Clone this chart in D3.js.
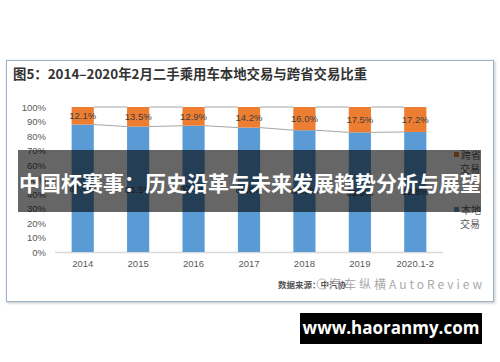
<!DOCTYPE html>
<html>
<head>
<meta charset="utf-8">
<script src="https://cdn.jsdelivr.net/npm/d3@7"></script>
<style>
  body { margin: 0; background: #fff; }
  svg { display: block; font-family: "Liberation Sans", Arial, "Noto Sans CJK SC", sans-serif; }
</style>
</head>
<body>
<svg id="chart" width="500" height="362"></svg>
<script>
// 数据
const years = ['2014', '2015', '2016', '2017', '2018', '2019', '2020.1-2'];
const local = [87.9, 86.5, 87.1, 85.8, 84.0, 82.5, 82.8];   // 本地交易
const cross = [12.1, 13.5, 12.9, 14.2, 16.0, 17.5, 17.2];   // 跨省交易
const yTicks = [0, 10, 20, 30, 40, 50, 60, 70, 80, 90, 100];
const legendItems = [
  { name: ['跨省', '交易'], color: '#ED7D31' },
  { name: ['本地', '交易'], color: '#5B9BD5' }
];

const svg = d3.select('#chart');
const cjk = '"Noto Sans CJK SC", sans-serif';

// 外框 + 阴影
const defs = svg.append('defs');
const f = defs.append('filter').attr('id', 'shadow').attr('x', -0.05).attr('y', -0.05).attr('width', 1.1).attr('height', 1.1);
f.append('feDropShadow').attr('dx', 1).attr('dy', 1).attr('stdDeviation', 1.5).attr('flood-color', '#000').attr('flood-opacity', 0.25);
svg.append('rect')
  .attr('x', 6.5).attr('y', 60.5).attr('width', 487).attr('height', 241)
  .attr('fill', '#fff').attr('stroke', '#9db3c9').attr('stroke-width', 1)
  .attr('filter', 'url(#shadow)');

// 标题
svg.append('text')
  .attr('x', 13).attr('y', 79)
  .style('font-family', cjk).style('font-size', '13.4px').style('font-weight', 'bold')
  .attr('fill', '#333')
  .text('图5：2014–2020年2月二手乘用车本地交易与跨省交易比重');

// 比例尺
const x = d3.scaleBand().domain(years).range([55, 443]).paddingInner(0.6).paddingOuter(0.3);
const y = d3.scaleLinear().domain([0, 100]).range([252, 107]);

// y轴
const yAxis = svg.append('g').attr('transform', 'translate(50,0)')
  .call(d3.axisLeft(y).tickValues(yTicks).tickFormat(d => d + '%').tickSize(0));
yAxis.select('.domain').remove();
yAxis.selectAll('text').attr('fill', '#595959').style('font-size', '9.5px').attr('x', -4);

// x轴
svg.append('line').attr('x1', 55).attr('x2', 443).attr('y1', y(0) + 0.5).attr('y2', y(0) + 0.5)
  .attr('stroke', '#d9d9d9').attr('stroke-width', 1.5);
const xAxis = svg.append('g').attr('transform', `translate(0,${y(0)})`)
  .call(d3.axisBottom(x).tickSize(0));
xAxis.select('.domain').remove();
xAxis.selectAll('text').attr('fill', '#595959').style('font-size', '9.5px').attr('dy', '1.25em');

// 系列线
const bw = x.bandwidth();
const seriesLine = svg.append('g').attr('stroke', '#a6a6a6').attr('stroke-width', 1);
years.forEach((yr, i) => {
  if (i === years.length - 1) return;
  const x1 = x(yr) + bw, x2 = x(years[i + 1]);
  seriesLine.append('line').attr('x1', x1).attr('x2', x2).attr('y1', y(local[i])).attr('y2', y(local[i + 1]));
  seriesLine.append('line').attr('x1', x1).attr('x2', x2).attr('y1', y(100)).attr('y2', y(100));
});

// 柱子
const bars = svg.append('g');
years.forEach((yr, i) => {
  bars.append('rect')
    .attr('x', x(yr)).attr('width', bw)
    .attr('y', y(local[i])).attr('height', y(0) - y(local[i]))
    .attr('fill', '#5B9BD5');
  bars.append('rect')
    .attr('x', x(yr)).attr('width', bw)
    .attr('y', y(100)).attr('height', y(local[i]) - y(100))
    .attr('fill', '#ED7D31');
  bars.append('text')
    .attr('x', x(yr) + bw / 2).attr('y', (y(100) + y(local[i])) / 2).attr('dy', '0.35em')
    .attr('text-anchor', 'middle').attr('fill', '#404040').style('font-size', '9.5px')
    .text(cross[i].toFixed(1) + '%');
  bars.append('text')
    .attr('x', x(yr) + bw / 2).attr('y', (y(local[i]) + y(0)) / 2).attr('dy', '0.35em')
    .attr('text-anchor', 'middle').attr('fill', '#404040').style('font-size', '9.5px')
    .text(local[i].toFixed(1) + '%');
});

// 图例
const legend = svg.append('g');
legendItems.forEach((d, i) => {
  const ly = 155 + i * 55;
  legend.append('rect').attr('x', 454).attr('y', ly - 3).attr('width', 5).attr('height', 5).attr('fill', d.color);
  d.name.forEach((t, j) => {
    legend.append('text')
      .attr('x', j === 0 ? 461 : 460).attr('y', ly + 4 + j * 14)
      .style('font-family', cjk).style('font-size', '10px').attr('fill', '#595959')
      .text(t);
  });
});

// 数据来源 + 水印
svg.append('text').attr('x', 278).attr('y', 288)
  .style('font-family', cjk).style('font-size', '8.5px').style('font-weight', 'bold').attr('fill', '#555')
  .text('数据来源：中汽协');
svg.append('circle').attr('cx', 322).attr('cy', 284).attr('r', 5).attr('fill', 'none').attr('stroke', '#bbb');
svg.append('text').attr('x', 329).attr('y', 289)
  .style('font-family', cjk).style('font-size', '12px').attr('fill', '#aaa')
  .attr('textLength', 153).attr('lengthAdjust', 'spacing')
  .text('汽车纵横AutoReview');

// 覆盖横幅
svg.append('rect').attr('x', 18).attr('y', 150).attr('width', 463).attr('height', 62)
  .attr('fill', '#000').attr('fill-opacity', 0.6);
svg.append('text')
  .attr('x', 250).attr('y', 191).attr('text-anchor', 'middle')
  .style('font-family', cjk).style('font-size', '21px').style('font-weight', 'bold')
  .attr('fill', '#fff')
  .text('中国杯赛事：历史沿革与未来发展趋势分析与展望');

// 网址
svg.append('rect').attr('x', 300).attr('y', 313).attr('width', 182).attr('height', 31).attr('fill', '#000');
svg.append('text')
  .attr('x', 391).attr('y', 334).attr('text-anchor', 'middle')
  .style('font-family', '"Open Sans", sans-serif').style('font-size', '17px').style('font-weight', 'bold')
  .attr('fill', '#fff')
  .text('www.haoranmy.com');
</script>
</body>
</html>
